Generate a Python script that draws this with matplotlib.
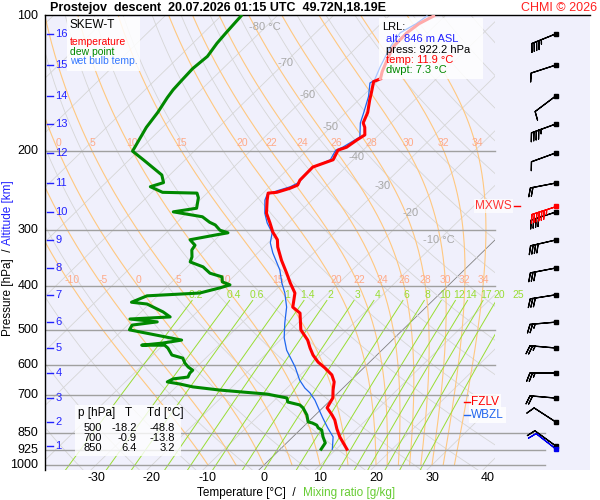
import numpy as np
import matplotlib.pyplot as plt
from matplotlib.patches import Rectangle
from matplotlib.ticker import NullLocator

plt.rcParams['font.family'] = ['Liberation Sans', 'DejaVu Sans']

# ---- sounding data ----
temp_p = [922, 866, 831, 794, 774, 746, 728, 709, 681, 653, 630, 608, 590, 569,
          549, 527, 500, 459, 445, 414, 393, 374, 350, 327, 315, 303, 289, 275,
          257, 248, 247, 242, 238, 232, 217, 209, 199, 196, 189, 184, 177, 173,
          164, 154, 148, 140, 138, 133, 125, 117, 109, 104, 100]
temp_t = [11.9, 8.4, 6.4, 4.4, 3.0, 0.8, 0.4, 0.0, -1.4, -2.7, -4.4, -6.9, -9.2, -11.4,
          -13.2, -15.1, -18.2, -21.4, -23.8, -26.0, -28.7, -31.1, -34.4, -37.5, -38.9,
          -41.1, -43.3, -45.7, -48.0, -49.1, -47.7, -46.1, -45.3, -45.8, -45.9, -43.6,
          -44.5, -43.5, -43.0, -42.5, -43.9, -45.0, -46.1, -48.0, -49.1, -50.7, -50.0,
          -51.0, -52.3, -53.6, -53.7, -53.2, -52.0]

dwpt_p = [922, 893, 866, 836, 827, 815, 806, 802, 774, 746, 735, 724, 709, 695,
          688, 681, 670, 660, 653, 643, 637, 624, 615, 605, 593, 578, 569, 549,
          541, 541, 535, 527, 500, 488, 480, 473, 468, 456, 438, 434, 420, 414,
          403, 397, 391, 381, 374, 362, 353, 344, 332, 324, 315, 307, 304, 300,
          292, 288, 280, 273, 268, 254, 248, 247, 240, 235, 226, 220, 209, 200,
          177, 164, 152, 146, 139, 131, 123, 115, 109, 100]
dwpt_t = [7.3, 6.9, 5.4, 3.9, 2.9, 2.1, 0.9, 0.0, -1.5, -3.5, -4.6, -7.3, -8.2, -12.5,
          -17.1, -21.6, -27.0, -29.9, -32.5, -32.0, -29.7, -30.1, -30.1, -31.5, -32.8,
          -34.1, -36.6, -38.6, -39.7, -43.8, -40.4, -37.6, -48.8, -49.2, -45.3, -50.7,
          -43.9, -46.1, -50.4, -53.5, -51.9, -43.0, -40.3, -39.1, -41.0, -42.0, -44.8,
          -47.2, -50.4, -51.0, -52.3, -52.6, -54.5, -50.6, -49.0, -50.9, -52.7, -54.2,
          -56.5, -62.6, -59.1, -60.7, -61.8, -68.1, -71.3, -69.7, -71.4, -73.5, -77.5,
          -81.0, -82.9, -83.6, -84.6, -85.0, -85.2, -85.4, -85.0, -85.7, -86.0, -86.4]

wetb_p = [922, 866, 827, 786, 762, 717, 691, 674, 647, 605, 555, 521, 483, 445,
          414, 393, 368, 337, 320, 304, 289, 275, 257, 250, 245, 240, 235, 218,
          209, 199, 196, 186, 173, 164, 151, 141, 139, 130, 117, 109, 104, 100]
wetb_t = [9.3, 7.2, 4.6, 1.9, 0.3, -2.8, -5.0, -6.8, -9.2, -12.4, -17.0, -19.7, -22.3,
          -24.9, -27.8, -30.2, -32.9, -37.3, -39.6, -41.1, -43.8, -46.0, -48.4, -49.0,
          -47.9, -46.3, -45.6, -45.9, -44.1, -44.9, -44.2, -43.0, -45.5, -46.8, -48.9,
          -51.1, -50.8, -52.2, -54.1, -54.9, -53.7, -53.2]
upper_limit_p = 138  # above this level the curves are drawn pale

# altitude scale [km] and the pressure where each km sits
alt_km = [16, 15, 14, 13, 12, 11, 10, 9, 8, 7, 6, 5, 4, 3, 2, 1]
alt_p = [109.6, 128.6, 150.7, 174.0, 201.8, 235.5, 273.3, 315.4, 364.1, 417.8,
         480.6, 548.8, 623.8, 709.5, 802, 907]

# winds at each km level (deg, kt)
wind_dir = [248, 252, 233, 250, 250, 259, 252, 257, 259, 261, 265, 275, 270, 275, 303, 306]
wind_spd = [45, 10, 10, 45, 10, 20, 40, 40, 30, 30, 25, 25, 25, 20, 10, 10]
mxws_p, mxws_dir, mxws_spd = 265, 252, 65
sfc_p, sfc_dir, sfc_spd = 922.2, 308, 10

fzlv_p, wbzl_p = 724, 774

isobars = [200, 300, 400, 500, 600, 700, 850, 925, 1000]
temp_ticks = [-30, -20, -10, 0, 10, 20, 30, 40]
iso_labels = [-80, -70, -60, -50, -40, -30, -20, -10]
iso_label_p = [106, 127, 150, 177, 206, 239, 275, 315]
moist_thw = [-10, -5, 0, 5, 10, 15, 20, 22, 24, 26, 28, 30, 32, 34]
mix_w = [0.2, 0.4, 0.6, 1, 1.4, 2, 3, 4, 6, 8, 10, 12, 14, 17, 20, 25]

table_p = ['500', '700', '850']
table_t = ['-18.2', '-0.9', '6.4']
table_td = ['-48.8', '-13.8', '3.2']

SKEW = 82.3  # deg C of shift per decade of pressure


def skew_x(t, p):
    return np.asarray(t, float) + SKEW * np.log10(1000.0 / np.asarray(p, float))


def moist_adiabat(thw, p):
    Rd, Cp, Lv, eps = 287.04, 1005.7, 2.501e6, 0.622
    out = np.empty_like(p)
    T = thw + 273.15
    out[0] = T

    def dtdp(T, pp):
        es = 6.112 * np.exp(17.67 * (T - 273.15) / (T - 29.65))
        rs = eps * es / (pp - es)
        return (Rd * T + Lv * rs) / (Cp + Lv * Lv * rs * eps / (Rd * T * T)) / pp

    for i in range(1, len(p)):
        dp = p[i] - p[i - 1]
        k1 = dtdp(T, p[i - 1])
        k2 = dtdp(T + k1 * dp, p[i])
        T = T + 0.5 * (k1 + k2) * dp
        out[i] = T
    return out - 273.15


def mixing_td(w, p):
    e = w * p / (622.0 + w)
    g = np.log(e / 6.112)
    return 243.5 * g / (17.67 - g)


def px(x, y):
    return x / 600.0, 1 - y / 500.0


fig = plt.figure(figsize=(6, 5), dpi=100)
ax = fig.add_axes([45 / 600, 30 / 500, 545 / 600, 455 / 500])
ax.set_facecolor('#f0f0fc')
ax.set_yscale('log')
X_LEFT, X_PLOT_RIGHT, X_RIGHT = -39.107, 41.25, 58.214
P_BOTTOM = 1025.97
ax.set_xlim(X_LEFT, X_RIGHT)
ax.set_ylim(P_BOTTOM, 99.49)
ax.set_xticks([])
ax.set_yticks([])
ax.yaxis.set_minor_locator(NullLocator())
for s in ['right', 'bottom']:
    ax.spines[s].set_visible(False)
ax.spines['top'].set_linewidth(1.0)
ax.spines['left'].set_linewidth(1.0)

clip = Rectangle((X_LEFT, 100), X_PLOT_RIGHT - X_LEFT, P_BOTTOM - 100,
                 transform=ax.transData)
clip_m = Rectangle((X_LEFT, 100), X_PLOT_RIGHT - X_LEFT, 900, transform=ax.transData)

pp = np.linspace(P_BOTTOM, 100, 181)

# isotherms
for t in range(-130, 50, 10):
    col = '#808080' if t == 0 else '#d6d6d6'
    ln, = ax.plot(skew_x([t, t], [P_BOTTOM, 100]), [P_BOTTOM, 100], color=col,
                  lw=0.6, zorder=1)
    ln.set_clip_path(clip)

# dry adiabats
for th in range(230, 520, 10):
    tt = th * (pp / 1000.0) ** 0.2857 - 273.15
    ln, = ax.plot(skew_x(tt, pp), pp, color='#d6d6d6', lw=0.6, zorder=1)
    ln.set_clip_path(clip)

# moist adiabats
pm = np.linspace(1000, 100, 901)
for thw in moist_thw:
    tt = moist_adiabat(thw, pm)
    ln, = ax.plot(skew_x(tt, pm), pm, color='#ffc880', lw=0.8, zorder=1)
    ln.set_clip_path(clip_m)
    for lp, lift in ((200, 1.045), (400, 1.031)):
        i = np.argmin(np.abs(pm - lp))
        xx = skew_x(tt[i], lp)
        if X_LEFT < xx < X_PLOT_RIGHT:
            ax.text(xx, lp / lift, str(thw), color='#ffaa88', fontsize=7.5,
                    ha='center', va='center', zorder=2)

# mixing ratio lines
pw = np.linspace(P_BOTTOM, 430, 60)
for w in mix_w:
    ln, = ax.plot(skew_x(mixing_td(w, pw), pw), pw, color='#99dd33', lw=0.7, zorder=1)
    ln.set_clip_path(clip)
    ax.text(skew_x(mixing_td(w, 418), 418), 418, f'{w:g}', color='#99dd33',
            fontsize=7.5, ha='center', va='center', zorder=2)

# isobars
for p in isobars:
    xr = 50.2 if p >= 850 else X_PLOT_RIGHT
    ax.plot([X_LEFT, xr], [p, p], color='#a0a0a0', lw=1.0, zorder=1.5)
    ax.text(-0.012, p, str(p), transform=ax.get_yaxis_transform(), ha='right',
            va='center', fontsize=9)
ax.text(-0.012, 100, '100', transform=ax.get_yaxis_transform(), ha='right',
        va='center', fontsize=9)

# isotherm labels
for t, lp in zip(iso_labels, iso_label_p):
    lab = f'{t} °C' if t in (-80, -10) else str(t)
    ax.text(skew_x(t, lp), lp, lab, color='#a8a8a8', fontsize=8, ha='center',
            va='center', zorder=2)

# altitude scale
for km, p in zip(alt_km, alt_p):
    ax.plot([0.004, 0.015], [p, p], color='#2222ff', lw=1.0,
            transform=ax.get_yaxis_transform(), clip_on=False, zorder=3)
    ax.text(0.019, p, str(km), color='#2222ff', fontsize=8, ha='left', va='center',
            transform=ax.get_yaxis_transform(), zorder=3)

# temperature tick labels
for t in temp_ticks:
    ax.text(t, -0.0176, str(t), transform=ax.get_xaxis_transform(), ha='center',
            va='center', fontsize=9)

# white boxes behind the info texts (under the profiles)
for (x0, y0, w0, h0, a) in ((67, 71, 73, 54, 0.85), (379, 79, 104, 61, 0.85),
                            (75, 456, 106, 51, 0.8)):
    ax.add_patch(Rectangle(px(x0, y0), w0 / 600, h0 / 500, transform=fig.transFigure,
                           fc='white', ec='none', alpha=a, zorder=3))

# profiles
tp, tt = np.array(temp_p), np.array(temp_t)
wp, wt = np.array(wetb_p), np.array(wetb_t)
lo_t, hi_t = tp >= upper_limit_p, tp <= upper_limit_p
lo_w, hi_w = wp >= upper_limit_p, wp <= 139
ax.plot(skew_x(wt[lo_w], wp[lo_w]), wp[lo_w], color='#1f66ee', lw=0.9, zorder=4)
ax.plot(skew_x(wt[hi_w], wp[hi_w]), wp[hi_w], color='#a8c4ff', lw=0.9, zorder=4)
ax.plot(skew_x(tt[lo_t], tp[lo_t]), tp[lo_t], color='#ff0000', lw=2.2, zorder=5)
ax.plot(skew_x(tt[hi_t], tp[hi_t]), tp[hi_t], color='#ffaaaa', lw=2.2, zorder=5)
ax.plot(skew_x(dwpt_t, dwpt_p), dwpt_p, color='#008800', lw=2.2, zorder=5)

# wind barbs
bx = 52.1
incr = dict(half=5, full=10, flag=100)
sizes = dict(spacing=0.1, height=0.32, emptybarb=0.0)
blen = 6.1


def uv(d, s):
    r = np.radians(np.asarray(d, float))
    s = np.asarray(s, float)
    return -s * np.sin(r), -s * np.cos(r)


u, v = uv(wind_dir, wind_spd)
ax.barbs(np.full(len(alt_p), bx), alt_p, u, v, length=blen, lw=0.9, color='black',
         barb_increments=incr, sizes=sizes, flip_barb=True, zorder=6)
ax.plot(np.full(len(alt_p), bx), alt_p, 's', color='black', ms=2.5, zorder=7)
mu, mv = uv(mxws_dir, mxws_spd)
ax.barbs([bx], [mxws_p], [mu], [mv], length=blen, lw=0.9, color='red',
         barb_increments=incr, sizes=sizes, flip_barb=True, zorder=6)
ax.plot([bx], [mxws_p], 's', color='red', ms=2.5, zorder=7)
su, sv = uv(sfc_dir, sfc_spd)
ax.barbs([bx], [sfc_p], [su], [sv], length=blen, lw=0.9, color='#0000ee',
         barb_increments=incr, sizes=sizes, flip_barb=True, zorder=6)
ax.plot([bx], [sfc_p], 's', color='#0000ee', ms=2.5, zorder=7)

ax.text(44.3, mxws_p, 'MXWS', color='#ff3333', fontsize=8.5, ha='right', va='center',
        zorder=6, bbox=dict(boxstyle='square,pad=0.1', fc='white', ec='none', alpha=0.7))
ax.plot([44.7, 45.7], [mxws_p, mxws_p], color='red', lw=1, zorder=6)

# freezing / wet-bulb zero markers
for lvl, name, col in ((fzlv_p, 'FZLV', '#ff0000'), (wbzl_p, 'WBZL', '#2266ee')):
    ax.text(37.0, lvl, name, color=col, fontsize=8.5, ha='left', va='center', zorder=6,
            bbox=dict(boxstyle='square,pad=0.15', fc='white', ec='none', alpha=0.85))
    ax.plot([35.8, 36.7], [lvl, lvl], color=col, lw=1, zorder=7)

# legend box texts
fig.text(*px(70, 25), 'SKEW-T', fontsize=8.5, va='center', zorder=6)
fig.text(*px(70, 42), 'temperature', color='#ff0000', fontsize=7.5, va='center', zorder=6)
fig.text(*px(70, 52), 'dew point', color='#008800', fontsize=7.5, va='center', zorder=6)
fig.text(*px(70, 61), 'wet bulb temp.', color='#3377ff', fontsize=7.5, va='center', zorder=6)

# LRL texts
fig.text(*px(382, 27), 'LRL:', fontsize=8, va='center', zorder=6)
fig.text(*px(386, 39), 'alt: 846 m ASL', color='#2222ff', fontsize=8, va='center', zorder=6)
fig.text(*px(386, 50), 'press: 922.2 hPa', fontsize=8, va='center', zorder=6)
fig.text(*px(386, 60), 'temp: 11.9 °C', color='#ff0000', fontsize=8, va='center', zorder=6)
fig.text(*px(386, 70), 'dwpt: 7.3 °C', color='#008800', fontsize=8, va='center', zorder=6)

# table of standard levels
fig.text(*px(78, 413), 'p [hPa]', fontsize=8.5, va='center', zorder=6)
fig.text(*px(125, 413), 'T', fontsize=8.5, va='center', zorder=6)
fig.text(*px(147, 413), 'Td [°C]', fontsize=8.5, va='center', zorder=6)
for i, (a, b, c) in enumerate(zip(table_p, table_t, table_td)):
    y = 428 + 10 * i
    fig.text(*px(102, y), a, fontsize=8, ha='right', va='center', zorder=6)
    fig.text(*px(137, y), b, fontsize=8, ha='right', va='center', zorder=6)
    fig.text(*px(175, y), c, fontsize=8, ha='right', va='center', zorder=6)

# titles and axis labels
fig.text(*px(50, 8), 'Prostejov  descent  20.07.2026 01:15 UTC  49.72N,18.19E',
         fontsize=9, fontweight='bold', va='center')
fig.text(*px(597, 8), 'CHMI © 2026', color='#ff2020', fontsize=9, ha='right', va='center')
fig.text(*px(197, 493), 'Temperature [°C]  /', fontsize=8.5, va='center')
fig.text(*px(303, 493), 'Mixing ratio [g/kg]', color='#66cc33', fontsize=8.5, va='center')
fig.text(*px(8, 336), 'Pressure [hPa]  /', fontsize=8.5, rotation=90, ha='center', va='bottom')
fig.text(*px(8, 245), 'Altitude [km]', color='#2222ff', fontsize=8.5, rotation=90,
         ha='center', va='bottom')

fig.savefig('out.png', dpi=100, facecolor='white')
